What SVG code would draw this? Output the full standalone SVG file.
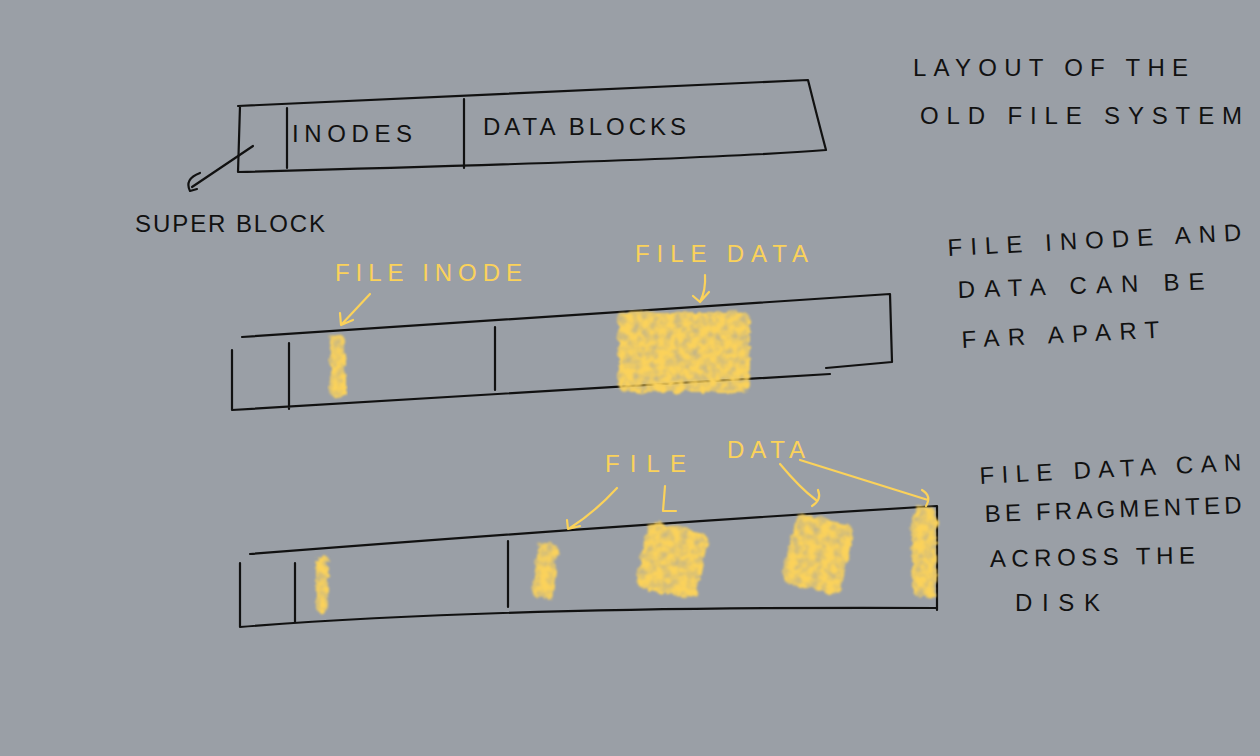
<svg xmlns="http://www.w3.org/2000/svg" width="1260" height="756" viewBox="0 0 1260 756">
<defs>
<style>
.ink{fill:none;stroke:#111;stroke-width:2.2;stroke-linecap:round;stroke-linejoin:round}
.yl{fill:none;stroke:#fbd25a;stroke-width:2.2;stroke-linecap:round;stroke-linejoin:round}
.t{font-family:"Liberation Sans",Arial,sans-serif;font-size:24px;fill:#111}
.ty{font-family:"Liberation Sans",Arial,sans-serif;font-size:24px;fill:#fbd25a}
.blob{fill:#fbd25a;filter:url(#chalk)}
</style>
<filter id="chalk" x="-20%" y="-20%" width="140%" height="140%">
<feTurbulence type="fractalNoise" baseFrequency="0.12" numOctaves="3" seed="5" result="n"/>
<feDisplacementMap in="SourceGraphic" in2="n" scale="8" result="d"/>
<feColorMatrix in="n" type="matrix" values="0 0 0 0 0  0 0 0 0 0  0 0 0 0 0  0 0 0 -1.2 1.45" result="m"/>
<feComposite in="d" in2="m" operator="in" result="c"/>
<feGaussianBlur in="c" stdDeviation="1.2"/>
</filter>
</defs>
<rect width="1260" height="756" fill="#9a9fa6"/>

<g id="old-layout">
<path class="ink" d="M240 106 L238 172 M238 106 Q500 95 808 80 Q818 120 826 150 Q700 160 238 172"/>
<path class="ink" d="M287 108 L287 168 M464 99 L464 168"/>
<text class="t" x="292" y="142" textLength="120" lengthAdjust="spacing">INODES</text>
<text class="t" x="483" y="135" textLength="203" lengthAdjust="spacing">DATA BLOCKS</text>
</g>
<g id="super-block">
<text class="t" x="135" y="232" textLength="190" lengthAdjust="spacing">SUPER BLOCK</text>
</g>

<g id="far-apart">
<path class="ink" d="M242 337 Q560 316 890 294 L892 362 L826 368 M232 350 L232 410 Q520 392 830 374 M289 343 L289 409 M495 327 L495 390"/>
<rect class="blob" x="330" y="334" width="15" height="64" rx="7"/>
<rect class="blob" x="618" y="312" width="132" height="80" rx="8"/>
<text class="ty" x="335" y="281" textLength="187" lengthAdjust="spacing">FILE INODE</text>
<text class="ty" x="635" y="262" textLength="173" lengthAdjust="spacing">FILE DATA</text>
</g>

<g id="fragmented">
<path class="ink" d="M250 554 Q620 525 937 506 L937 610 M240 563 L240 627 Q500 606 937 608 M295 563 L295 622 M508 541 L508 607"/>
<rect class="blob" x="316" y="555" width="13" height="58" rx="6"/>
<rect class="blob" x="535" y="543" width="21" height="56" rx="8" transform="rotate(8 545 571)"/>
<rect class="blob" x="641" y="526" width="62" height="68" rx="10" transform="rotate(12 672 560)"/>
<rect class="blob" x="788" y="518" width="60" height="72" rx="10" transform="rotate(12 818 554)"/>
<rect class="blob" x="912" y="506" width="25" height="92" rx="10"/>
<text class="ty" x="605" y="472" textLength="81" lengthAdjust="spacing">FILE</text>
<text class="ty" x="727" y="458" textLength="78" lengthAdjust="spacing">DATA</text>
</g>

<g id="connectors">
<path class="ink" d="M253 146 L192 187 M200 173 Q184 179 190 191 L197 189"/>
<path class="yl" d="M370 294 L341 325 M340 313 L341 325 L353 320"/>
<path class="yl" d="M705 275 Q706 290 700 302 M693 296 L700 302 L709 292"/>
<path class="yl" d="M617 488 Q595 512 570 528 M567 520 L568 529 L580 526"/>
<path class="yl" d="M665 486 L663 511 L676 511"/>
<path class="yl" d="M780 464 Q800 488 816 500 M818 490 Q822 500 812 506"/>
<path class="yl" d="M800 460 Q870 482 928 500 M922 490 Q932 496 926 506"/>
</g>

<g id="notes">
<text class="t" x="913" y="76" textLength="275" lengthAdjust="spacing">LAYOUT OF THE</text>
<text class="t" x="920" y="124" textLength="322" lengthAdjust="spacing">OLD FILE SYSTEM</text>
<text class="t" x="948" y="256" textLength="294" lengthAdjust="spacing" transform="rotate(-3 948 256)">FILE INODE AND</text>
<text class="t" x="958" y="298" textLength="247" lengthAdjust="spacing" transform="rotate(-2 958 298)">DATA CAN BE</text>
<text class="t" x="962" y="348" textLength="198" lengthAdjust="spacing" transform="rotate(-3 962 348)">FAR APART</text>
<text class="t" x="980" y="484" textLength="262" lengthAdjust="spacing" transform="rotate(-3 980 484)">FILE DATA CAN</text>
<text class="t" x="985" y="522" textLength="257" lengthAdjust="spacing" transform="rotate(-2 985 522)">BE FRAGMENTED</text>
<text class="t" x="990" y="567" textLength="205" lengthAdjust="spacing" transform="rotate(-1 990 567)">ACROSS THE</text>
<text class="t" x="1015" y="611" textLength="85" lengthAdjust="spacing">DISK</text>
</g>
</svg>
